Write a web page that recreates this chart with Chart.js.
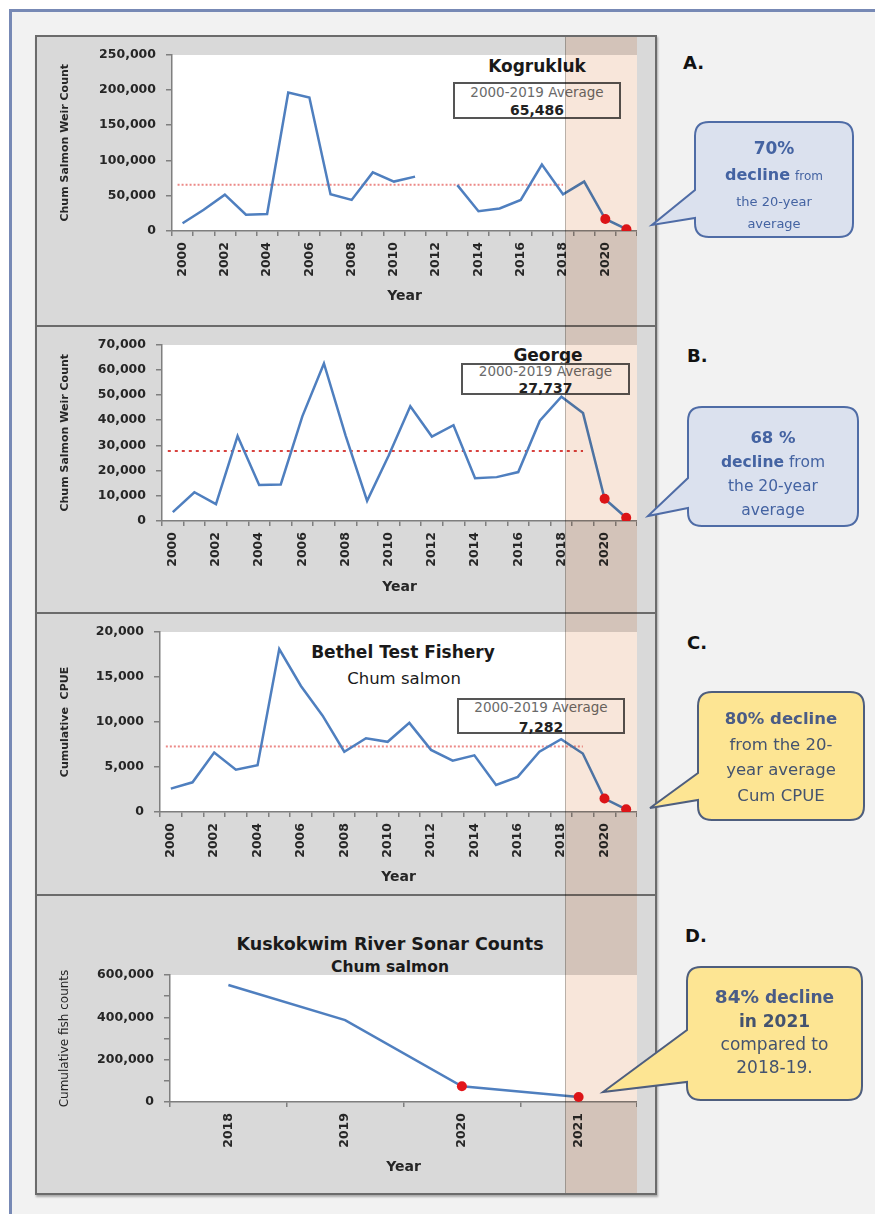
<!DOCTYPE html>
<html>
<head>
<meta charset="utf-8">
<script src="https://cdn.jsdelivr.net/npm/chart.js@4.4.0/dist/chart.umd.min.js"></script>
<style>
    body { margin: 0; background: #fff; font-family: "DejaVu Sans", sans-serif; }
    #page { position: relative; width: 875px; height: 1214px; overflow: hidden; background: #fff; }
    #frame { position: absolute; left: 9px; top: 9px; width: 900px; height: 1250px; background: #f2f2f2;
        border-left: 3px solid #7789b5; border-top: 3px solid #7789b5; }
    #panel { position: absolute; left: 35px; top: 35px; width: 618px; height: 1156px; background: #d9d9d9;
        border: 2px solid #6b6b6b; box-shadow: 1px 2px 2px rgba(0,0,0,0.3); }
    .sep { position: absolute; left: 37px; width: 618px; height: 2px; background: #6b6b6b; }
    .plotbg { position: absolute; background: #fff; }
    canvas { position: absolute; }
    .title { position: absolute; transform: translate(-50%, -50%); white-space: nowrap; color: #1a1a1a; font-weight: bold; }
    .avgbox { position: absolute; box-sizing: border-box; background: #fff; border: 2px solid #555; text-align: center; white-space: nowrap; }
    .avgbox .l1 { font-size: 13.5px; color: #6a6a6a; }
    .avgbox .l2 { font-size: 14px; font-weight: bold; color: #222; }
    #shade { position: absolute; top: 37px; height: 1156px; background: #f8e6da; mix-blend-mode: multiply;
        border-left: 1px solid #b9b0a8; box-sizing: border-box; }
    .letter { position: absolute; font-size: 18px; font-weight: bold; color: #111; transform: translateY(-50%); }
    #bubbles { position: absolute; left: 0; top: 0; }
    .btext { position: absolute; text-align: center; white-space: nowrap; }
    .blue { color: #4463a2; }
    .dark { color: #44536f; }
</style>
</head>
<body>
<div id="page">
    <div id="frame"></div>
    <div id="panel"></div>
    <div class="sep" style="top:325px"></div>
    <div class="sep" style="top:612px"></div>
    <div class="sep" style="top:894px"></div>

    <!-- titres et encadrés des moyennes -->
    <div class="title" style="left:537px; top:66px; font-size:17px">Kogrukluk</div>
    <div class="avgbox" style="left:453px; top:82px; width:168px; height:37px">
        <div class="l1" style="line-height:16px">2000-2019 Average</div>
        <div class="l2" style="line-height:20px">65,486</div>
    </div>

    <div class="title" style="left:548px; top:355px; font-size:17px">George</div>
    <div class="avgbox" style="left:461px; top:363px; width:169px; height:32px">
        <div class="l1" style="line-height:12px">2000-2019 Average</div>
        <div class="l2" style="line-height:22px">27,737</div>
    </div>

    <div class="title" style="left:403px; top:652px; font-size:17px">Bethel Test Fishery</div>
    <div class="title" style="left:404px; top:678px; font-size:16.5px; font-weight:normal">Chum salmon</div>
    <div class="avgbox" style="left:457px; top:698px; width:168px; height:36px">
        <div class="l1" style="line-height:14px">2000-2019 Average</div>
        <div class="l2" style="line-height:26px">7,282</div>
    </div>

    <div class="title" style="left:390px; top:944px; font-size:17.5px">Kuskokwim River Sonar Counts</div>
    <div class="title" style="left:390px; top:967px; font-size:15.5px">Chum salmon</div>

    <canvas id="chartA"></canvas>
    <canvas id="chartB"></canvas>
    <canvas id="chartC"></canvas>
    <canvas id="chartD"></canvas>

    <div id="shade"></div>

    <div class="letter" style="left:683px; top:62px">A.</div>
    <div class="letter" style="left:687px; top:355px">B.</div>
    <div class="letter" style="left:687px; top:642px">C.</div>
    <div class="letter" style="left:685px; top:935px">D.</div>

    <svg id="bubbles" width="875" height="1214"></svg>

    <!-- textes des bulles -->
    <div class="btext blue" style="left:695px; width:158px; top:135px">
        <div style="line-height:26px; font-size:17px; font-weight:bold">70%</div>
        <div style="line-height:27px"><b style="font-size:16px">decline</b> <span style="font-size:12px">from</span></div>
        <div style="line-height:24px; font-size:13px">the 20-year</div>
        <div style="line-height:20px; font-size:13px">average</div>
    </div>
    <div class="btext blue" style="left:688px; width:170px; top:426px; font-size:15.5px">
        <div style="line-height:24px; font-weight:bold; font-size:16.5px">68 %</div>
        <div style="line-height:24px"><b>decline</b> from</div>
        <div style="line-height:24px">the 20-year</div>
        <div style="line-height:24px">average</div>
    </div>
    <div class="btext dark" style="left:698px; width:166px; top:706px; font-size:16.5px">
        <div style="line-height:26px; font-weight:bold; color:#4a5c86">80% decline</div>
        <div style="line-height:25px">from the 20-</div>
        <div style="line-height:26px">year average</div>
        <div style="line-height:26px">Cum CPUE</div>
    </div>
    <div class="btext dark" style="left:687px; width:175px; top:985px; font-size:17px">
        <div style="line-height:24px; font-weight:bold; color:#4a5c86"><span style="font-size:18.5px">84%</span> decline</div>
        <div style="line-height:24px; font-weight:bold">in 2021</div>
        <div style="line-height:23px">compared to</div>
        <div style="line-height:23px">2018-19.</div>
    </div>
</div>

<script>
// Données
const years = ["2000", "2001", "2002", "2003", "2004", "2005", "2006", "2007", "2008", "2009", "2010",
    "2011", "2012", "2013", "2014", "2015", "2016", "2017", "2018", "2019", "2020", "2021"];

const kogCounts = [11000, 30000, 51500, 23000, 24000, 196000, 189000, 52000, 44000, 83000, 70000,
    77000, null, 65000, 28000, 32000, 44000, 94000, 52000, 70000, 17000, 2500];
const kogAverage = 65486;

const georgeCounts = [3500, 11400, 6700, 33700, 14300, 14500, 41500, 62500, 34000, 8000, 26000,
    45500, 33500, 38000, 17000, 17400, 19400, 39800, 49300, 42800, 8800, 1300];
const georgeAverage = 27737;

const bethelCpue = [2600, 3300, 6600, 4700, 5200, 18100, 14000, 10700, 6700, 8200, 7800,
    9900, 6900, 5700, 6300, 3000, 3900, 6700, 8100, 6500, 1500, 300];
const bethelAverage = 7282;

const sonarYears = ["2018", "2019", "2020", "2021"];
const sonarCounts = [553000, 387000, 74000, 24000];

Chart.defaults.font.family = "'DejaVu Sans', sans-serif";
Chart.defaults.color = "#262626";

const lineBlue = "#4f7fbf";
const dotRed = "#e3161b";
const axisGrey = "#7f7f7f";

// Ligne pointillée de la moyenne 2000-2019
const avgLine = {
    id: "avgLine",
    beforeDatasetsDraw(chart, args, o) {
        if (o.value == null) return;
        const { ctx, scales: { x, y } } = chart;
        const yy = y.getPixelForValue(o.value);
        ctx.save();
        ctx.strokeStyle = o.color;
        ctx.lineWidth = 2;
        ctx.setLineDash(o.dash);
        ctx.beginPath();
        ctx.moveTo(x.getPixelForValue(0) - 5, yy);
        ctx.lineTo(x.getPixelForValue(o.to), yy);
        ctx.stroke();
        ctx.restore();
    }
};

function buildChart(id, box, labels, values, yMax, yStep, yTitle, opts) {
    const canvas = document.getElementById(id);
    canvas.width = 600;
    canvas.height = box.h;
    canvas.style.left = "37px";
    canvas.style.top = box.y + "px";
    const titleLh = 14 * 1.2;
    const xBottom = box.yearY + 4 + titleLh / 2;

    const chart = new Chart(canvas, {
        type: "line",
        data: {
            labels: labels,
            datasets: [{
                data: values,
                borderColor: lineBlue,
                borderWidth: 2.5,
                tension: 0,
                spanGaps: false,
                pointRadius: c => c.dataIndex >= opts.redFrom ? 5 : 0,
                pointBackgroundColor: dotRed,
                pointBorderWidth: 0
            }]
        },
        options: {
            responsive: false,
            animation: false,
            devicePixelRatio: 1,
            layout: { autoPadding: false, padding: { top: box.plotTop - box.y, bottom: box.y + box.h - xBottom, left: 0, right: 0 } },
            plugins: {
                legend: { display: false },
                tooltip: { enabled: false },
                avgLine: opts.avg || {}
            },
            scales: {
                x: {
                    offset: true,
                    grid: { offset: true, drawOnChartArea: false, color: axisGrey, tickLength: 5, lineWidth: 1.5 },
                    border: { color: axisGrey, width: 1.5 },
                    ticks: {
                        autoSkip: false, minRotation: 90, maxRotation: 90, padding: 6,
                        font: { weight: "bold", size: 12.5 },
                        callback: opts.xLabel
                    },
                    title: { display: true, text: "Year", font: { weight: "bold", size: 14 }, padding: { top: 4, bottom: 4 } },
                    afterFit: s => { s.height = xBottom - box.plotBottom; s.paddingLeft = 0; s.paddingRight = 0; }
                },
                y: {
                    min: 0,
                    max: yMax,
                    ticks: {
                        stepSize: yStep, padding: 10,
                        font: { weight: "bold", size: 12.5 },
                        callback: opts.yLabel || (v => v.toLocaleString("en-US"))
                    },
                    grid: { drawOnChartArea: false, color: axisGrey, tickLength: 6, lineWidth: 1.5 },
                    border: { color: axisGrey, width: 1.5 },
                    title: { display: true, text: yTitle, font: opts.yTitleFont, padding: { top: 28 - opts.yTitleFont.size * 0.6, bottom: 0 } },
                    afterFit: s => { s.width = box.plotLeft - 37; }
                }
            }
        },
        plugins: [avgLine]
    });

    // fond blanc de la zone de tracé
    const ca = chart.chartArea;
    const bg = document.createElement("div");
    bg.className = "plotbg";
    bg.style.left = (37 + ca.left) + "px";
    bg.style.top = (box.y + ca.top) + "px";
    bg.style.width = (ca.right - ca.left) + "px";
    bg.style.height = (ca.bottom - ca.top) + "px";
    document.getElementById("page").insertBefore(bg, document.querySelector(".title"));
    return chart;
}

const everyOther = (v, i) => i % 2 === 0 ? years[i] : "";
const boldTitle = { weight: "bold", size: 11 };

const chartA = buildChart("chartA", { y: 37, h: 288, plotTop: 53, plotBottom: 231, plotLeft: 172, yearY: 296 },
    years, kogCounts, 250000, 50000, "Chum Salmon Weir Count",
    { redFrom: 20, xLabel: everyOther, yTitleFont: boldTitle,
      avg: { value: kogAverage, to: 18, color: "#ec8a88", dash: [2, 2] } });

buildChart("chartB", { y: 327, h: 285, plotTop: 342, plotBottom: 521, plotLeft: 162, yearY: 587 },
    years, georgeCounts, 70000, 10000, "Chum Salmon Weir Count",
    { redFrom: 20, xLabel: everyOther, yTitleFont: boldTitle,
      avg: { value: georgeAverage, to: 19, color: "#d8423e", dash: [3, 4] } });

buildChart("chartC", { y: 614, h: 280, plotTop: 632, plotBottom: 812, plotLeft: 160, yearY: 877 },
    years, bethelCpue, 20000, 5000, "Cumulative  CPUE",
    { redFrom: 20, xLabel: everyOther, yTitleFont: boldTitle,
      avg: { value: bethelAverage, to: 19, color: "#ec8a88", dash: [2, 2] } });

buildChart("chartD", { y: 896, h: 297, plotTop: 975, plotBottom: 1102, plotLeft: 170, yearY: 1167 },
    sonarYears, sonarCounts, 600000, 100000, "Cumulative fish counts",
    { redFrom: 2, xLabel: (v, i) => sonarYears[i], yTitleFont: { size: 12 },
      yLabel: v => v % 200000 === 0 ? v.toLocaleString("en-US") : "" });

// Zone ombrée 2019-2021 calée sur l'axe du graphique A
const shade = document.getElementById("shade");
const xA = chartA.scales.x;
const shadeLeft = 37 + xA.getPixelForValue(18) + 2;
shade.style.left = shadeLeft + "px";
shade.style.width = (37 + chartA.chartArea.right - shadeLeft) + "px";

// Bulles de commentaire
function bubblePath(x, y, w, h, r, t1, t2, tipX, tipY) {
    return `M${x + r},${y} H${x + w - r} Q${x + w},${y} ${x + w},${y + r} V${y + h - r} ` +
        `Q${x + w},${y + h} ${x + w - r},${y + h} H${x + r} Q${x},${y + h} ${x},${y + h - r} ` +
        `V${t2} L${tipX},${tipY} L${x},${t1} V${y + r} Q${x},${y} ${x + r},${y} Z`;
}
const bubbles = [
    { d: bubblePath(695, 122, 158, 115, 14, 190, 218, 652, 225), fill: "#dbe1ee", stroke: "#4f6ca6" },
    { d: bubblePath(688, 407, 170, 119, 14, 478, 508, 648, 516), fill: "#dbe1ee", stroke: "#4f6ca6" },
    { d: bubblePath(698, 692, 166, 128, 14, 773, 800, 650, 808), fill: "#fde593", stroke: "#4e5e7e" },
    { d: bubblePath(687, 967, 175, 133, 14, 1030, 1082, 603, 1092), fill: "#fde593", stroke: "#4e5e7e" }
];
const svg = document.getElementById("bubbles");
bubbles.forEach(b => {
    const p = document.createElementNS("http://www.w3.org/2000/svg", "path");
    p.setAttribute("d", b.d);
    p.setAttribute("fill", b.fill);
    p.setAttribute("stroke", b.stroke);
    p.setAttribute("stroke-width", "2");
    svg.appendChild(p);
});
</script>
</body>
</html>
